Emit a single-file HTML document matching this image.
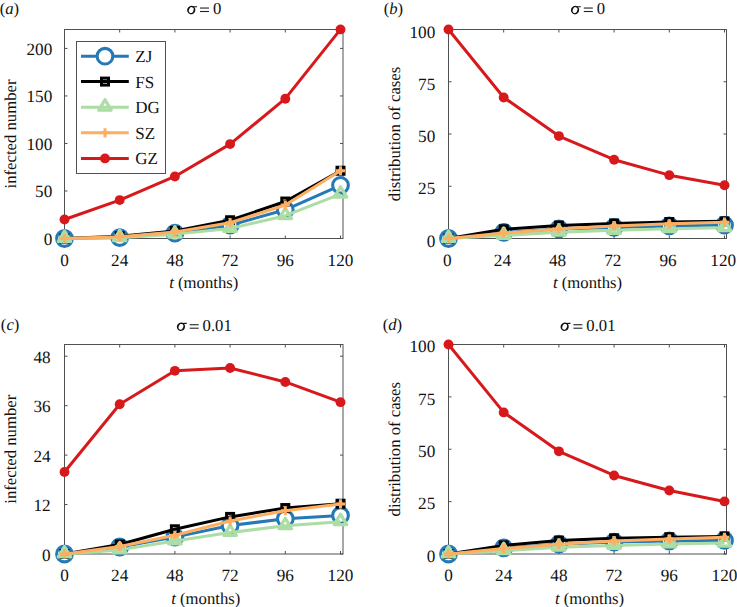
<!DOCTYPE html>
<html><head><meta charset="utf-8"><style>
html,body{margin:0;padding:0;background:#fff;overflow:hidden;}
svg{display:block;}
text{font-family:"Liberation Serif", serif;fill:#111;text-rendering:geometricPrecision;}
</style></head><body>
<svg width="737" height="607" viewBox="0 0 737 607">
<rect width="737" height="607" fill="#fff"/>
<g><rect x="64.5" y="29.5" width="278.50" height="209.00" fill="none" stroke="#505050" stroke-width="1"/>
<path d="M64.50,238.5 v-3.0 M64.50,29.5 v3.0 M119.70,238.5 v-3.0 M119.70,29.5 v3.0 M174.90,238.5 v-3.0 M174.90,29.5 v3.0 M230.10,238.5 v-3.0 M230.10,29.5 v3.0 M285.30,238.5 v-3.0 M285.30,29.5 v3.0 M340.50,238.5 v-3.0 M340.50,29.5 v3.0 M64.5,238.50 h3.0 M343.0,238.50 h-3.0 M64.5,190.98 h3.0 M343.0,190.98 h-3.0 M64.5,143.46 h3.0 M343.0,143.46 h-3.0 M64.5,95.94 h3.0 M343.0,95.94 h-3.0 M64.5,48.41 h3.0 M343.0,48.41 h-3.0" stroke="#505050" stroke-width="1" fill="none"/>
<text x="64.50" y="265.80" text-anchor="middle" font-size="17.2" >0</text>
<text x="119.70" y="265.80" text-anchor="middle" font-size="17.2" >24</text>
<text x="174.90" y="265.80" text-anchor="middle" font-size="17.2" >48</text>
<text x="230.10" y="265.80" text-anchor="middle" font-size="17.2" >72</text>
<text x="285.30" y="265.80" text-anchor="middle" font-size="17.2" >96</text>
<text x="340.50" y="265.80" text-anchor="middle" font-size="17.2" >120</text>
<text x="52.30" y="244.80" text-anchor="end" font-size="17.2" >0</text>
<text x="52.30" y="197.28" text-anchor="end" font-size="17.2" >50</text>
<text x="52.30" y="149.76" text-anchor="end" font-size="17.2" >100</text>
<text x="52.30" y="102.24" text-anchor="end" font-size="17.2" >150</text>
<text x="52.30" y="54.71" text-anchor="end" font-size="17.2" >200</text>
<text x="203.75" y="288.00" text-anchor="middle" font-size="16.7"><tspan font-style="italic">t</tspan> (months)</text>
<text transform="translate(15.50,134.00) rotate(-90)" text-anchor="middle" font-size="16.7">infected number</text>
<g transform="translate(187.00,14.20)" fill="none" stroke="#111"><path fill="#111" stroke="none" fill-rule="evenodd" transform="translate(4.25,-4.15) rotate(22)" d="M-4.1,0 a4.1,4.25 0 1,0 8.2,0 a4.1,4.25 0 1,0 -8.2,0 Z M-2.25,0 a2.25,3.05 0 1,0 4.5,0 a2.25,3.05 0 1,0 -4.5,0 Z"/><path d="M3.4,-8.0 L10.1,-8.05 L10.0,-6.95 L5.0,-6.9 Z" fill="#111" stroke="none"/></g>
<rect x="200.00" y="7.50" width="9.0" height="1.1" fill="#222"/>
<rect x="200.00" y="10.95" width="9.0" height="1.1" fill="#222"/>
<text x="212.90" y="14.20" font-size="16.7">0</text>
<text x="-0.30" y="13.60" font-size="16.7">(<tspan font-style="italic">a</tspan>)</text>
<path d="M64.50,238.50 L119.70,237.55 L174.90,233.18 L230.10,225.19 L285.30,209.80 L340.50,185.28" stroke="#2479b6" stroke-width="3.0" fill="none" stroke-linejoin="round"/>
<circle cx="64.50" cy="238.50" r="7.85" fill="#fff" stroke="#2479b6" stroke-width="3.1"/>
<circle cx="119.70" cy="237.55" r="7.85" fill="#fff" stroke="#2479b6" stroke-width="3.1"/>
<circle cx="174.90" cy="233.18" r="7.85" fill="#fff" stroke="#2479b6" stroke-width="3.1"/>
<circle cx="230.10" cy="225.19" r="7.85" fill="#fff" stroke="#2479b6" stroke-width="3.1"/>
<circle cx="285.30" cy="209.80" r="7.85" fill="#fff" stroke="#2479b6" stroke-width="3.1"/>
<circle cx="340.50" cy="185.28" r="7.85" fill="#fff" stroke="#2479b6" stroke-width="3.1"/>
<path d="M64.50,238.50 L119.70,236.22 L174.90,230.90 L230.10,220.25 L285.30,201.53 L340.50,170.73" stroke="#000000" stroke-width="3.0" fill="none" stroke-linejoin="round"/>
<rect x="61.00" y="235.00" width="7.0" height="7.0" fill="none" stroke="#000000" stroke-width="3"/>
<rect x="116.20" y="232.72" width="7.0" height="7.0" fill="none" stroke="#000000" stroke-width="3"/>
<rect x="171.40" y="227.40" width="7.0" height="7.0" fill="none" stroke="#000000" stroke-width="3"/>
<rect x="226.60" y="216.75" width="7.0" height="7.0" fill="none" stroke="#000000" stroke-width="3"/>
<rect x="281.80" y="198.03" width="7.0" height="7.0" fill="none" stroke="#000000" stroke-width="3"/>
<rect x="337.00" y="167.23" width="7.0" height="7.0" fill="none" stroke="#000000" stroke-width="3"/>
<path d="M64.50,238.50 L119.70,237.74 L174.90,234.13 L230.10,228.52 L285.30,215.69 L340.50,194.21" stroke="#abdda4" stroke-width="3.0" fill="none" stroke-linejoin="round"/>
<path d="M64.50,231.03 L70.75,241.43 L58.25,241.43 Z" fill="none" stroke="#abdda4" stroke-width="3.2" stroke-linejoin="round"/>
<path d="M119.70,230.27 L125.95,240.67 L113.45,240.67 Z" fill="none" stroke="#abdda4" stroke-width="3.2" stroke-linejoin="round"/>
<path d="M174.90,226.66 L181.15,237.06 L168.65,237.06 Z" fill="none" stroke="#abdda4" stroke-width="3.2" stroke-linejoin="round"/>
<path d="M230.10,221.05 L236.35,231.45 L223.85,231.45 Z" fill="none" stroke="#abdda4" stroke-width="3.2" stroke-linejoin="round"/>
<path d="M285.30,208.22 L291.55,218.62 L279.05,218.62 Z" fill="none" stroke="#abdda4" stroke-width="3.2" stroke-linejoin="round"/>
<path d="M340.50,186.74 L346.75,197.14 L334.25,197.14 Z" fill="none" stroke="#abdda4" stroke-width="3.2" stroke-linejoin="round"/>
<path d="M64.50,238.50 L119.70,236.79 L174.90,232.04 L230.10,222.72 L285.30,205.04 L340.50,170.73" stroke="#fdae61" stroke-width="3.0" fill="none" stroke-linejoin="round"/>
<path d="M59.90,238.50 H69.10 M64.50,233.90 V243.10" stroke="#fdae61" stroke-width="3" fill="none"/>
<path d="M115.10,236.79 H124.30 M119.70,232.19 V241.39" stroke="#fdae61" stroke-width="3" fill="none"/>
<path d="M170.30,232.04 H179.50 M174.90,227.44 V236.64" stroke="#fdae61" stroke-width="3" fill="none"/>
<path d="M225.50,222.72 H234.70 M230.10,218.12 V227.32" stroke="#fdae61" stroke-width="3" fill="none"/>
<path d="M280.70,205.04 H289.90 M285.30,200.44 V209.64" stroke="#fdae61" stroke-width="3" fill="none"/>
<path d="M335.90,170.73 H345.10 M340.50,166.13 V175.33" stroke="#fdae61" stroke-width="3" fill="none"/>
<path d="M64.50,219.49 L119.70,200.10 L174.90,176.44 L230.10,144.12 L285.30,98.69 L340.50,29.40" stroke="#d7191c" stroke-width="3.0" fill="none" stroke-linejoin="round"/>
<circle cx="64.50" cy="219.49" r="4.95" fill="#d7191c"/>
<circle cx="119.70" cy="200.10" r="4.95" fill="#d7191c"/>
<circle cx="174.90" cy="176.44" r="4.95" fill="#d7191c"/>
<circle cx="230.10" cy="144.12" r="4.95" fill="#d7191c"/>
<circle cx="285.30" cy="98.69" r="4.95" fill="#d7191c"/>
<circle cx="340.50" cy="29.40" r="4.95" fill="#d7191c"/>
<rect x="76.5" y="41.5" width="89.00" height="132.00" fill="#fff" stroke="#505050" stroke-width="1"/>
<path d="M81,56.2 H128.8" stroke="#2479b6" stroke-width="3.0"/>
<circle cx="105.00" cy="56.20" r="7.85" fill="#fff" stroke="#2479b6" stroke-width="3.1"/>
<text x="135.30" y="62.20" text-anchor="start" font-size="17.0" >ZJ</text>
<path d="M81,81.6 H128.8" stroke="#000000" stroke-width="3.0"/>
<rect x="101.50" y="78.10" width="7.0" height="7.0" fill="none" stroke="#000000" stroke-width="3"/>
<text x="135.30" y="87.60" text-anchor="start" font-size="17.0" >FS</text>
<path d="M81,107.2 H128.8" stroke="#abdda4" stroke-width="3.0"/>
<path d="M105.00,99.73 L111.25,110.13 L98.75,110.13 Z" fill="none" stroke="#abdda4" stroke-width="3.2" stroke-linejoin="round"/>
<text x="135.30" y="113.20" text-anchor="start" font-size="17.0" >DG</text>
<path d="M81,132.8 H128.8" stroke="#fdae61" stroke-width="3.0"/>
<path d="M100.40,132.80 H109.60 M105.00,128.20 V137.40" stroke="#fdae61" stroke-width="3" fill="none"/>
<text x="135.30" y="138.80" text-anchor="start" font-size="17.0" >SZ</text>
<path d="M81,158.4 H128.8" stroke="#d7191c" stroke-width="3.0"/>
<circle cx="105.00" cy="158.40" r="4.95" fill="#d7191c"/>
<text x="135.30" y="164.40" text-anchor="start" font-size="17.0" >GZ</text></g>
<g><rect x="448.5" y="29.5" width="278.00" height="209.00" fill="none" stroke="#505050" stroke-width="1"/>
<path d="M448.50,238.5 v-3.0 M448.50,29.5 v3.0 M503.70,238.5 v-3.0 M503.70,29.5 v3.0 M558.90,238.5 v-3.0 M558.90,29.5 v3.0 M614.10,238.5 v-3.0 M614.10,29.5 v3.0 M669.30,238.5 v-3.0 M669.30,29.5 v3.0 M724.50,238.5 v-3.0 M724.50,29.5 v3.0 M448.5,238.50 h3.0 M726.5,238.50 h-3.0 M448.5,186.25 h3.0 M726.5,186.25 h-3.0 M448.5,134.00 h3.0 M726.5,134.00 h-3.0 M448.5,81.75 h3.0 M726.5,81.75 h-3.0 M448.5,29.50 h3.0 M726.5,29.50 h-3.0" stroke="#505050" stroke-width="1" fill="none"/>
<text x="447.20" y="265.80" text-anchor="middle" font-size="17.2" >0</text>
<text x="502.40" y="265.80" text-anchor="middle" font-size="17.2" >24</text>
<text x="557.60" y="265.80" text-anchor="middle" font-size="17.2" >48</text>
<text x="612.80" y="265.80" text-anchor="middle" font-size="17.2" >72</text>
<text x="668.00" y="265.80" text-anchor="middle" font-size="17.2" >96</text>
<text x="723.20" y="265.80" text-anchor="middle" font-size="17.2" >120</text>
<text x="435.30" y="246.70" text-anchor="end" font-size="17.2" >0</text>
<text x="435.30" y="194.45" text-anchor="end" font-size="17.2" >25</text>
<text x="435.30" y="142.20" text-anchor="end" font-size="17.2" >50</text>
<text x="435.30" y="89.95" text-anchor="end" font-size="17.2" >75</text>
<text x="435.30" y="37.70" text-anchor="end" font-size="17.2" >100</text>
<text x="587.50" y="288.00" text-anchor="middle" font-size="16.7"><tspan font-style="italic">t</tspan> (months)</text>
<text transform="translate(399.50,134.00) rotate(-90)" text-anchor="middle" font-size="16.7">distribution of cases</text>
<g transform="translate(570.80,14.20)" fill="none" stroke="#111"><path fill="#111" stroke="none" fill-rule="evenodd" transform="translate(4.25,-4.15) rotate(22)" d="M-4.1,0 a4.1,4.25 0 1,0 8.2,0 a4.1,4.25 0 1,0 -8.2,0 Z M-2.25,0 a2.25,3.05 0 1,0 4.5,0 a2.25,3.05 0 1,0 -4.5,0 Z"/><path d="M3.4,-8.0 L10.1,-8.05 L10.0,-6.95 L5.0,-6.9 Z" fill="#111" stroke="none"/></g>
<rect x="583.80" y="7.50" width="9.0" height="1.1" fill="#222"/>
<rect x="583.80" y="10.95" width="9.0" height="1.1" fill="#222"/>
<text x="596.70" y="14.20" font-size="16.7">0</text>
<text x="383.70" y="13.60" font-size="16.7">(<tspan font-style="italic">b</tspan>)</text>
<path d="M448.50,238.50 L503.70,232.44 L558.90,228.89 L614.10,227.42 L669.30,225.96 L724.50,225.12" stroke="#2479b6" stroke-width="3.0" fill="none" stroke-linejoin="round"/>
<circle cx="448.50" cy="238.50" r="7.85" fill="#fff" stroke="#2479b6" stroke-width="3.1"/>
<circle cx="503.70" cy="232.44" r="7.85" fill="#fff" stroke="#2479b6" stroke-width="3.1"/>
<circle cx="558.90" cy="228.89" r="7.85" fill="#fff" stroke="#2479b6" stroke-width="3.1"/>
<circle cx="614.10" cy="227.42" r="7.85" fill="#fff" stroke="#2479b6" stroke-width="3.1"/>
<circle cx="669.30" cy="225.96" r="7.85" fill="#fff" stroke="#2479b6" stroke-width="3.1"/>
<circle cx="724.50" cy="225.12" r="7.85" fill="#fff" stroke="#2479b6" stroke-width="3.1"/>
<path d="M448.50,238.50 L503.70,229.30 L558.90,225.54 L614.10,223.45 L669.30,221.99 L724.50,221.36" stroke="#000000" stroke-width="3.0" fill="none" stroke-linejoin="round"/>
<rect x="445.00" y="235.00" width="7.0" height="7.0" fill="none" stroke="#000000" stroke-width="3"/>
<rect x="500.20" y="225.80" width="7.0" height="7.0" fill="none" stroke="#000000" stroke-width="3"/>
<rect x="555.40" y="222.04" width="7.0" height="7.0" fill="none" stroke="#000000" stroke-width="3"/>
<rect x="610.60" y="219.95" width="7.0" height="7.0" fill="none" stroke="#000000" stroke-width="3"/>
<rect x="665.80" y="218.49" width="7.0" height="7.0" fill="none" stroke="#000000" stroke-width="3"/>
<rect x="721.00" y="217.86" width="7.0" height="7.0" fill="none" stroke="#000000" stroke-width="3"/>
<path d="M448.50,238.50 L503.70,235.37 L558.90,232.23 L614.10,230.35 L669.30,228.68 L724.50,227.63" stroke="#abdda4" stroke-width="3.0" fill="none" stroke-linejoin="round"/>
<path d="M448.50,231.03 L454.75,241.43 L442.25,241.43 Z" fill="none" stroke="#abdda4" stroke-width="3.2" stroke-linejoin="round"/>
<path d="M503.70,227.90 L509.95,238.30 L497.45,238.30 Z" fill="none" stroke="#abdda4" stroke-width="3.2" stroke-linejoin="round"/>
<path d="M558.90,224.76 L565.15,235.16 L552.65,235.16 Z" fill="none" stroke="#abdda4" stroke-width="3.2" stroke-linejoin="round"/>
<path d="M614.10,222.88 L620.35,233.28 L607.85,233.28 Z" fill="none" stroke="#abdda4" stroke-width="3.2" stroke-linejoin="round"/>
<path d="M669.30,221.21 L675.55,231.61 L663.05,231.61 Z" fill="none" stroke="#abdda4" stroke-width="3.2" stroke-linejoin="round"/>
<path d="M724.50,220.16 L730.75,230.56 L718.25,230.56 Z" fill="none" stroke="#abdda4" stroke-width="3.2" stroke-linejoin="round"/>
<path d="M448.50,238.50 L503.70,233.07 L558.90,229.09 L614.10,225.96 L669.30,223.87 L724.50,222.20" stroke="#fdae61" stroke-width="3.0" fill="none" stroke-linejoin="round"/>
<path d="M443.90,238.50 H453.10 M448.50,233.90 V243.10" stroke="#fdae61" stroke-width="3" fill="none"/>
<path d="M499.10,233.07 H508.30 M503.70,228.47 V237.67" stroke="#fdae61" stroke-width="3" fill="none"/>
<path d="M554.30,229.09 H563.50 M558.90,224.50 V233.69" stroke="#fdae61" stroke-width="3" fill="none"/>
<path d="M609.50,225.96 H618.70 M614.10,221.36 V230.56" stroke="#fdae61" stroke-width="3" fill="none"/>
<path d="M664.70,223.87 H673.90 M669.30,219.27 V228.47" stroke="#fdae61" stroke-width="3" fill="none"/>
<path d="M719.90,222.20 H729.10 M724.50,217.60 V226.80" stroke="#fdae61" stroke-width="3" fill="none"/>
<path d="M448.50,29.50 L503.70,97.43 L558.90,136.09 L614.10,159.71 L669.30,175.17 L724.50,185.20" stroke="#d7191c" stroke-width="3.0" fill="none" stroke-linejoin="round"/>
<circle cx="448.50" cy="29.50" r="4.95" fill="#d7191c"/>
<circle cx="503.70" cy="97.43" r="4.95" fill="#d7191c"/>
<circle cx="558.90" cy="136.09" r="4.95" fill="#d7191c"/>
<circle cx="614.10" cy="159.71" r="4.95" fill="#d7191c"/>
<circle cx="669.30" cy="175.17" r="4.95" fill="#d7191c"/>
<circle cx="724.50" cy="185.20" r="4.95" fill="#d7191c"/></g>
<g><rect x="64.5" y="344.5" width="278.50" height="209.50" fill="none" stroke="#505050" stroke-width="1"/>
<path d="M64.50,554.0 v-3.0 M64.50,344.5 v3.0 M119.70,554.0 v-3.0 M119.70,344.5 v3.0 M174.90,554.0 v-3.0 M174.90,344.5 v3.0 M230.10,554.0 v-3.0 M230.10,344.5 v3.0 M285.30,554.0 v-3.0 M285.30,344.5 v3.0 M340.50,554.0 v-3.0 M340.50,344.5 v3.0 M64.5,554.00 h3.0 M343.0,554.00 h-3.0 M64.5,504.55 h3.0 M343.0,504.55 h-3.0 M64.5,455.10 h3.0 M343.0,455.10 h-3.0 M64.5,405.65 h3.0 M343.0,405.65 h-3.0 M64.5,356.20 h3.0 M343.0,356.20 h-3.0" stroke="#505050" stroke-width="1" fill="none"/>
<text x="64.50" y="581.30" text-anchor="middle" font-size="17.2" >0</text>
<text x="119.70" y="581.30" text-anchor="middle" font-size="17.2" >24</text>
<text x="174.90" y="581.30" text-anchor="middle" font-size="17.2" >48</text>
<text x="230.10" y="581.30" text-anchor="middle" font-size="17.2" >72</text>
<text x="285.30" y="581.30" text-anchor="middle" font-size="17.2" >96</text>
<text x="340.50" y="581.30" text-anchor="middle" font-size="17.2" >120</text>
<text x="50.60" y="560.50" text-anchor="end" font-size="17.2" >0</text>
<text x="50.60" y="511.05" text-anchor="end" font-size="17.2" >12</text>
<text x="50.60" y="461.60" text-anchor="end" font-size="17.2" >24</text>
<text x="50.60" y="412.15" text-anchor="end" font-size="17.2" >36</text>
<text x="50.60" y="362.70" text-anchor="end" font-size="17.2" >48</text>
<text x="205.75" y="603.50" text-anchor="middle" font-size="16.7"><tspan font-style="italic">t</tspan> (months)</text>
<text transform="translate(15.50,449.25) rotate(-90)" text-anchor="middle" font-size="16.7">infected number</text>
<g transform="translate(176.70,330.90)" fill="none" stroke="#111"><path fill="#111" stroke="none" fill-rule="evenodd" transform="translate(4.25,-4.15) rotate(22)" d="M-4.1,0 a4.1,4.25 0 1,0 8.2,0 a4.1,4.25 0 1,0 -8.2,0 Z M-2.25,0 a2.25,3.05 0 1,0 4.5,0 a2.25,3.05 0 1,0 -4.5,0 Z"/><path d="M3.4,-8.0 L10.1,-8.05 L10.0,-6.95 L5.0,-6.9 Z" fill="#111" stroke="none"/></g>
<rect x="189.70" y="324.20" width="9.0" height="1.1" fill="#222"/>
<rect x="189.70" y="327.65" width="9.0" height="1.1" fill="#222"/>
<text x="202.60" y="330.90" font-size="16.7">0.01</text>
<text x="0.85" y="330.20" font-size="16.7">(<tspan font-style="italic">c</tspan>)</text>
<path d="M64.50,554.00 L119.70,546.99 L174.90,537.10 L230.10,525.57 L285.30,518.77 L340.50,515.47" stroke="#2479b6" stroke-width="3.0" fill="none" stroke-linejoin="round"/>
<circle cx="64.50" cy="554.00" r="7.85" fill="#fff" stroke="#2479b6" stroke-width="3.1"/>
<circle cx="119.70" cy="546.99" r="7.85" fill="#fff" stroke="#2479b6" stroke-width="3.1"/>
<circle cx="174.90" cy="537.10" r="7.85" fill="#fff" stroke="#2479b6" stroke-width="3.1"/>
<circle cx="230.10" cy="525.57" r="7.85" fill="#fff" stroke="#2479b6" stroke-width="3.1"/>
<circle cx="285.30" cy="518.77" r="7.85" fill="#fff" stroke="#2479b6" stroke-width="3.1"/>
<circle cx="340.50" cy="515.47" r="7.85" fill="#fff" stroke="#2479b6" stroke-width="3.1"/>
<path d="M64.50,554.00 L119.70,544.52 L174.90,529.28 L230.10,516.91 L285.30,508.05 L340.50,503.73" stroke="#000000" stroke-width="3.0" fill="none" stroke-linejoin="round"/>
<rect x="61.00" y="550.50" width="7.0" height="7.0" fill="none" stroke="#000000" stroke-width="3"/>
<rect x="116.20" y="541.02" width="7.0" height="7.0" fill="none" stroke="#000000" stroke-width="3"/>
<rect x="171.40" y="525.78" width="7.0" height="7.0" fill="none" stroke="#000000" stroke-width="3"/>
<rect x="226.60" y="513.41" width="7.0" height="7.0" fill="none" stroke="#000000" stroke-width="3"/>
<rect x="281.80" y="504.55" width="7.0" height="7.0" fill="none" stroke="#000000" stroke-width="3"/>
<rect x="337.00" y="500.23" width="7.0" height="7.0" fill="none" stroke="#000000" stroke-width="3"/>
<path d="M64.50,554.00 L119.70,549.88 L174.90,541.02 L230.10,532.57 L285.30,525.77 L340.50,521.65" stroke="#abdda4" stroke-width="3.0" fill="none" stroke-linejoin="round"/>
<path d="M64.50,546.53 L70.75,556.93 L58.25,556.93 Z" fill="none" stroke="#abdda4" stroke-width="3.2" stroke-linejoin="round"/>
<path d="M119.70,542.41 L125.95,552.81 L113.45,552.81 Z" fill="none" stroke="#abdda4" stroke-width="3.2" stroke-linejoin="round"/>
<path d="M174.90,533.55 L181.15,543.95 L168.65,543.95 Z" fill="none" stroke="#abdda4" stroke-width="3.2" stroke-linejoin="round"/>
<path d="M230.10,525.10 L236.35,535.50 L223.85,535.50 Z" fill="none" stroke="#abdda4" stroke-width="3.2" stroke-linejoin="round"/>
<path d="M285.30,518.30 L291.55,528.70 L279.05,528.70 Z" fill="none" stroke="#abdda4" stroke-width="3.2" stroke-linejoin="round"/>
<path d="M340.50,514.18 L346.75,524.58 L334.25,524.58 Z" fill="none" stroke="#abdda4" stroke-width="3.2" stroke-linejoin="round"/>
<path d="M64.50,554.00 L119.70,546.58 L174.90,535.25 L230.10,521.03 L285.30,510.73 L340.50,503.93" stroke="#fdae61" stroke-width="3.0" fill="none" stroke-linejoin="round"/>
<path d="M59.90,554.00 H69.10 M64.50,549.40 V558.60" stroke="#fdae61" stroke-width="3" fill="none"/>
<path d="M115.10,546.58 H124.30 M119.70,541.98 V551.18" stroke="#fdae61" stroke-width="3" fill="none"/>
<path d="M170.30,535.25 H179.50 M174.90,530.65 V539.85" stroke="#fdae61" stroke-width="3" fill="none"/>
<path d="M225.50,521.03 H234.70 M230.10,516.43 V525.63" stroke="#fdae61" stroke-width="3" fill="none"/>
<path d="M280.70,510.73 H289.90 M285.30,506.13 V515.33" stroke="#fdae61" stroke-width="3" fill="none"/>
<path d="M335.90,503.93 H345.10 M340.50,499.33 V508.53" stroke="#fdae61" stroke-width="3" fill="none"/>
<path d="M64.50,472.00 L119.70,404.21 L174.90,370.83 L230.10,367.95 L285.30,381.96 L340.50,402.15" stroke="#d7191c" stroke-width="3.0" fill="none" stroke-linejoin="round"/>
<circle cx="64.50" cy="472.00" r="4.95" fill="#d7191c"/>
<circle cx="119.70" cy="404.21" r="4.95" fill="#d7191c"/>
<circle cx="174.90" cy="370.83" r="4.95" fill="#d7191c"/>
<circle cx="230.10" cy="367.95" r="4.95" fill="#d7191c"/>
<circle cx="285.30" cy="381.96" r="4.95" fill="#d7191c"/>
<circle cx="340.50" cy="402.15" r="4.95" fill="#d7191c"/></g>
<g><rect x="448.5" y="344.5" width="278.00" height="209.50" fill="none" stroke="#505050" stroke-width="1"/>
<path d="M448.50,554.0 v-3.0 M448.50,344.5 v3.0 M503.70,554.0 v-3.0 M503.70,344.5 v3.0 M558.90,554.0 v-3.0 M558.90,344.5 v3.0 M614.10,554.0 v-3.0 M614.10,344.5 v3.0 M669.30,554.0 v-3.0 M669.30,344.5 v3.0 M724.50,554.0 v-3.0 M724.50,344.5 v3.0 M448.5,554.00 h3.0 M726.5,554.00 h-3.0 M448.5,501.62 h3.0 M726.5,501.62 h-3.0 M448.5,449.25 h3.0 M726.5,449.25 h-3.0 M448.5,396.88 h3.0 M726.5,396.88 h-3.0 M448.5,344.50 h3.0 M726.5,344.50 h-3.0" stroke="#505050" stroke-width="1" fill="none"/>
<text x="448.50" y="581.30" text-anchor="middle" font-size="17.2" >0</text>
<text x="503.70" y="581.30" text-anchor="middle" font-size="17.2" >24</text>
<text x="558.90" y="581.30" text-anchor="middle" font-size="17.2" >48</text>
<text x="614.10" y="581.30" text-anchor="middle" font-size="17.2" >72</text>
<text x="669.30" y="581.30" text-anchor="middle" font-size="17.2" >96</text>
<text x="724.50" y="581.30" text-anchor="middle" font-size="17.2" >120</text>
<text x="435.30" y="561.80" text-anchor="end" font-size="17.2" >0</text>
<text x="435.30" y="509.43" text-anchor="end" font-size="17.2" >25</text>
<text x="435.30" y="457.05" text-anchor="end" font-size="17.2" >50</text>
<text x="435.30" y="404.68" text-anchor="end" font-size="17.2" >75</text>
<text x="435.30" y="352.30" text-anchor="end" font-size="17.2" >100</text>
<text x="589.50" y="603.50" text-anchor="middle" font-size="16.7"><tspan font-style="italic">t</tspan> (months)</text>
<text transform="translate(399.50,449.25) rotate(-90)" text-anchor="middle" font-size="16.7">distribution of cases</text>
<g transform="translate(560.40,330.90)" fill="none" stroke="#111"><path fill="#111" stroke="none" fill-rule="evenodd" transform="translate(4.25,-4.15) rotate(22)" d="M-4.1,0 a4.1,4.25 0 1,0 8.2,0 a4.1,4.25 0 1,0 -8.2,0 Z M-2.25,0 a2.25,3.05 0 1,0 4.5,0 a2.25,3.05 0 1,0 -4.5,0 Z"/><path d="M3.4,-8.0 L10.1,-8.05 L10.0,-6.95 L5.0,-6.9 Z" fill="#111" stroke="none"/></g>
<rect x="573.40" y="324.20" width="9.0" height="1.1" fill="#222"/>
<rect x="573.40" y="327.65" width="9.0" height="1.1" fill="#222"/>
<text x="586.30" y="330.90" font-size="16.7">0.01</text>
<text x="382.70" y="330.20" font-size="16.7">(<tspan font-style="italic">d</tspan>)</text>
<path d="M448.50,554.00 L503.70,547.92 L558.90,544.15 L614.10,542.06 L669.30,541.01 L724.50,540.38" stroke="#2479b6" stroke-width="3.0" fill="none" stroke-linejoin="round"/>
<circle cx="448.50" cy="554.00" r="7.85" fill="#fff" stroke="#2479b6" stroke-width="3.1"/>
<circle cx="503.70" cy="547.92" r="7.85" fill="#fff" stroke="#2479b6" stroke-width="3.1"/>
<circle cx="558.90" cy="544.15" r="7.85" fill="#fff" stroke="#2479b6" stroke-width="3.1"/>
<circle cx="614.10" cy="542.06" r="7.85" fill="#fff" stroke="#2479b6" stroke-width="3.1"/>
<circle cx="669.30" cy="541.01" r="7.85" fill="#fff" stroke="#2479b6" stroke-width="3.1"/>
<circle cx="724.50" cy="540.38" r="7.85" fill="#fff" stroke="#2479b6" stroke-width="3.1"/>
<path d="M448.50,554.00 L503.70,545.41 L558.90,540.59 L614.10,538.29 L669.30,537.24 L724.50,536.40" stroke="#000000" stroke-width="3.0" fill="none" stroke-linejoin="round"/>
<rect x="445.00" y="550.50" width="7.0" height="7.0" fill="none" stroke="#000000" stroke-width="3"/>
<rect x="500.20" y="541.91" width="7.0" height="7.0" fill="none" stroke="#000000" stroke-width="3"/>
<rect x="555.40" y="537.09" width="7.0" height="7.0" fill="none" stroke="#000000" stroke-width="3"/>
<rect x="610.60" y="534.79" width="7.0" height="7.0" fill="none" stroke="#000000" stroke-width="3"/>
<rect x="665.80" y="533.74" width="7.0" height="7.0" fill="none" stroke="#000000" stroke-width="3"/>
<rect x="721.00" y="532.90" width="7.0" height="7.0" fill="none" stroke="#000000" stroke-width="3"/>
<path d="M448.50,554.00 L503.70,550.65 L558.90,547.30 L614.10,545.41 L669.30,543.94 L724.50,543.11" stroke="#abdda4" stroke-width="3.0" fill="none" stroke-linejoin="round"/>
<path d="M448.50,546.53 L454.75,556.93 L442.25,556.93 Z" fill="none" stroke="#abdda4" stroke-width="3.2" stroke-linejoin="round"/>
<path d="M503.70,543.18 L509.95,553.58 L497.45,553.58 Z" fill="none" stroke="#abdda4" stroke-width="3.2" stroke-linejoin="round"/>
<path d="M558.90,539.83 L565.15,550.23 L552.65,550.23 Z" fill="none" stroke="#abdda4" stroke-width="3.2" stroke-linejoin="round"/>
<path d="M614.10,537.94 L620.35,548.34 L607.85,548.34 Z" fill="none" stroke="#abdda4" stroke-width="3.2" stroke-linejoin="round"/>
<path d="M669.30,536.47 L675.55,546.87 L663.05,546.87 Z" fill="none" stroke="#abdda4" stroke-width="3.2" stroke-linejoin="round"/>
<path d="M724.50,535.64 L730.75,546.04 L718.25,546.04 Z" fill="none" stroke="#abdda4" stroke-width="3.2" stroke-linejoin="round"/>
<path d="M448.50,554.00 L503.70,548.55 L558.90,544.36 L614.10,541.01 L669.30,538.92 L724.50,537.24" stroke="#fdae61" stroke-width="3.0" fill="none" stroke-linejoin="round"/>
<path d="M443.90,554.00 H453.10 M448.50,549.40 V558.60" stroke="#fdae61" stroke-width="3" fill="none"/>
<path d="M499.10,548.55 H508.30 M503.70,543.95 V553.15" stroke="#fdae61" stroke-width="3" fill="none"/>
<path d="M554.30,544.36 H563.50 M558.90,539.76 V548.96" stroke="#fdae61" stroke-width="3" fill="none"/>
<path d="M609.50,541.01 H618.70 M614.10,536.41 V545.61" stroke="#fdae61" stroke-width="3" fill="none"/>
<path d="M664.70,538.92 H673.90 M669.30,534.32 V543.52" stroke="#fdae61" stroke-width="3" fill="none"/>
<path d="M719.90,537.24 H729.10 M724.50,532.64 V541.84" stroke="#fdae61" stroke-width="3" fill="none"/>
<path d="M448.50,344.50 L503.70,412.38 L558.90,451.35 L614.10,475.44 L669.30,490.52 L724.50,501.42" stroke="#d7191c" stroke-width="3.0" fill="none" stroke-linejoin="round"/>
<circle cx="448.50" cy="344.50" r="4.95" fill="#d7191c"/>
<circle cx="503.70" cy="412.38" r="4.95" fill="#d7191c"/>
<circle cx="558.90" cy="451.35" r="4.95" fill="#d7191c"/>
<circle cx="614.10" cy="475.44" r="4.95" fill="#d7191c"/>
<circle cx="669.30" cy="490.52" r="4.95" fill="#d7191c"/>
<circle cx="724.50" cy="501.42" r="4.95" fill="#d7191c"/></g>
</svg>
</body></html>
